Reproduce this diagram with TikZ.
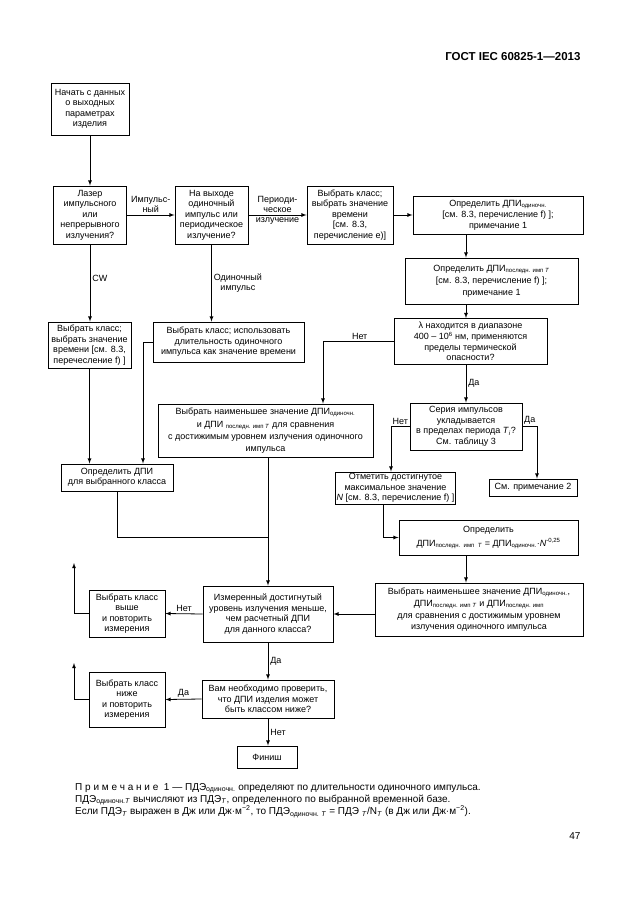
\documentclass[tikz,border=0pt]{standalone}
\usepackage{fontspec}
\setmainfont{Liberation Sans}
\usetikzlibrary{arrows}
\tikzset{>=latex}
\newcommand\boxfont{\fontsize{9}{10.5}\selectfont}
\newcommand\idx[1]{\textsubscript{#1}}
\tikzstyle{block} = [draw, line width=0.9pt, align=center, inner sep=1pt, font=\boxfont]
\tikzstyle{arrow} = [line width=0.8pt, ->, >=latex]
\tikzstyle{line} = [line width=0.8pt]
\tikzstyle{lbl} = [font=\boxfont, inner sep=2pt, align=center]

\begin{document}
\begin{tikzpicture}[x=1pt, y=-1pt]

\useasboundingbox (0,0) rectangle (630,913);

\node [anchor=east, font=\bfseries\fontsize{11.5}{13}\selectfont] (header) at (584,57) {ГОСТ IEC 60825-1—2013};

% top row
\node [block, minimum width=78pt, minimum height=52pt] (start) at (90,109)
  {Начать с данных\\о выходных\\параметрах\\изделия};
\node [block, minimum width=73pt, minimum height=58pt] (laser) at (90,215)
  {Лазер\\импульсного\\или\\непрерывного\\излучения?};
\node [block, minimum width=73pt, minimum height=58pt] (output-type) at (211.5,215)
  {На выходе\\одиночный\\импульс или\\периодическое\\излучение?};
\node [block, minimum width=86pt, minimum height=58pt] (class-period) at (350,215)
  {Выбрать класс;\\выбрать значение\\времени\\{[}см. 8.3,\\перечисление е)]};
\node [block, minimum width=170pt, minimum height=38pt] (dpi-single) at (498,215)
  {Определить ДПИ\idx{одиночн.}\\[1pt]{[}см. 8.3, перечисление f) ];\\примечание 1};

% right column
\node [block, minimum width=173pt, minimum height=46pt] (dpi-last) at (491.5,281)
  {Определить ДПИ\idx{последн. имп \textit{T}}\\[2pt]{[}см. 8.3, перечисление f) ];\\[1pt]примечание 1};
\node [block, minimum width=153pt, minimum height=46pt] (thermal) at (470.5,341.5)
  {λ находится в диапазоне\\[1pt]400 – 10\textsuperscript{6} нм, применяются\\пределы термической\\опасности?};
\node [block, minimum width=112pt, minimum height=47pt] (series) at (466,426.5)
  {Серия импульсов\\укладывается\\в пределах периода \textit{T}\idx{\textit{i}}?\\См. таблицу 3};
\node [block, minimum width=115pt, minimum height=32pt] (count-n) at (395.5,488)
  {Отметить достигнутое\\максимальное значение\\\textit{N} {[}см. 8.3, перечисление f) ]};
\node [block, minimum width=88pt, minimum height=17pt] (note-two) at (533,487.5)
  {См. примечание 2};
\node [block, minimum width=179pt, minimum height=35pt] (dpi-n) at (488.5,537.5)
  {Определить\\[3pt]ДПИ\idx{последн.\ \ имп\ \ \textit{T}} = ДПИ\idx{одиночн.}·\textit{N}\textsuperscript{-0,25}};
\node [block, minimum width=208pt, minimum height=53pt] (min-three) at (479,609.5)
  {Выбрать наименьшее значение ДПИ\idx{одиночн.},\\[2pt]ДПИ\idx{последн. имп \textit{T}} и ДПИ\idx{последн. имп}\\[1.5pt]для сравнения с достижимым уровнем\\излучения одиночного импульса};

% middle and left columns
\node [block, minimum width=83pt, minimum height=46pt] (class-cw) at (89.5,345)
  {Выбрать класс;\\выбрать значение\\времени {[}см. 8.3,\\перечесление f) ]};
\node [block, minimum width=151pt, minimum height=40pt] (class-single) at (228.5,342)
  {Выбрать класс; использовать\\длительность одиночного\\импульса как значение времени};
\node [block, minimum width=215pt, minimum height=53pt] (min-two) at (265.5,430.5)
  {Выбрать наименьшее значение ДПИ\idx{одиночн.}\\[2pt]и ДПИ \idx{последн. имп \textit{T}} для сравнения\\[2pt]с достижимым уровнем излучения одиночного\\[1pt]импульса};
\node [block, minimum width=112pt, minimum height=27pt] (dpi-class) at (117,477.5)
  {Определить ДПИ\\для выбранного класса};

% bottom
\node [block, minimum width=130pt, minimum height=56pt] (compare) at (268,614)
  {Измеренный достигнутый\\уровень излучения меньше,\\чем расчетный ДПИ\\для данного класса?};
\node [block, minimum width=76pt, minimum height=47pt] (class-up) at (127,613.5)
  {Выбрать класс\\выше\\и повторить\\измерения};
\node [block, minimum width=132pt, minimum height=38pt] (check-lower) at (268,699)
  {Вам необходимо проверить,\\что ДПИ изделия может\\быть классом ниже?};
\node [block, minimum width=76pt, minimum height=55pt] (class-down) at (127,699.5)
  {Выбрать класс\\ниже\\и повторить\\измерения};
\node [block, minimum width=60pt, minimum height=22pt] (finish) at (267,757)
  {Финиш};

\coordinate (merge) at (268,537);
\coordinate (retry-up) at (74,563);
\coordinate (retry-down) at (74,663);

% connectors
\draw [arrow] (start.south) -- (laser.north);
\draw [arrow] (laser) -- (output-type)
  node [lbl, above, midway] {Импульс-\\ный};
\draw [arrow] (output-type) -- (class-period)
  node [lbl, above, midway] {Периоди-\\ческое}
  node [lbl, below, midway] {излучение};
\draw [arrow] (class-period) -- (dpi-single);
\draw [arrow] (dpi-single.south -| series.north) -- (dpi-last.north -| series.north);
\draw [arrow] (dpi-last.south -| series.north) -- (thermal.north -| series.north);
\draw [arrow] (thermal.south -| series.north) -- (series.north)
  node [lbl, right, midway] {Да};
\draw [arrow] (thermal.west) -| ([xshift=57.5pt]min-two.north)
  node [lbl, above, pos=0.24] {Нет};
\draw [arrow] (series.west) -| ([xshift=-4.5pt]count-n.north)
  node [lbl, above, pos=0.25] {Нет};
\draw [arrow] (series.east) -| ([xshift=4pt]note-two.north)
  node [lbl, above, pos=0.25] {Да};
\draw [arrow] ([xshift=-12.5pt]count-n.south) |- (dpi-n.west);
\draw [arrow] (dpi-n.south -| series.north) -- (min-three.north -| series.north);
\draw [arrow] (min-three.west |- compare.east) -- (compare.east);

\draw [arrow] (laser.south) -- (laser.south |- class-cw.north)
  node [lbl, right, pos=0.44] {CW};
\draw [arrow] (output-type.south) -- (output-type.south |- class-single.north)
  node [lbl, right, midway] {Одиночный\\импульс};
\draw [arrow] (class-cw.south) -- (class-cw.south |- dpi-class.north);
\draw [arrow] (class-single.west) -| ([xshift=26pt]dpi-class.north);
\draw [line] (dpi-class.south) |- (merge);
\draw [arrow] (min-two.south -| compare.north) -- (compare.north);

\draw [arrow] (compare.west) -- (class-up.east)
  node [lbl, above, midway] {Нет};
\draw [arrow] (class-up.west) -| (retry-up);
\draw [arrow] (compare.south) -- (check-lower.north)
  node [lbl, right, midway] {Да};
\draw [arrow] (check-lower.west) -- (class-down.east)
  node [lbl, above, midway] {Да};
\draw [arrow] (class-down.west) -| (retry-down);
\draw [arrow] (check-lower.south) -- (check-lower.south |- finish.north)
  node [lbl, right, midway] {Нет};

% note and page number
\node [anchor=north west, align=left, inner sep=0pt, font=\fontsize{10}{12.2}\selectfont] (note) at (75,783)
  {П р и м е ч а н и е\ \ 1 — ПДЭ\idx{одиночн.} определяют по длительности одиночного импульса.\\
   ПДЭ\idx{одиночн.\textit{T}} вычисляют из ПДЭ\idx{\textit{T}}, определенного по выбранной временной базе.\\
   Если ПДЭ\idx{\textit{T}} выражен в Дж или Дж·м\textsuperscript{−2}, то ПДЭ\idx{одиночн. \textit{T}} = ПДЭ \idx{\textit{T}}/N\idx{\textit{T}} (в Дж или Дж·м\textsuperscript{−2}).};
\node [anchor=east, font=\fontsize{10}{12}\selectfont] (page) at (584,836) {47};

\end{tikzpicture}
\end{document}
